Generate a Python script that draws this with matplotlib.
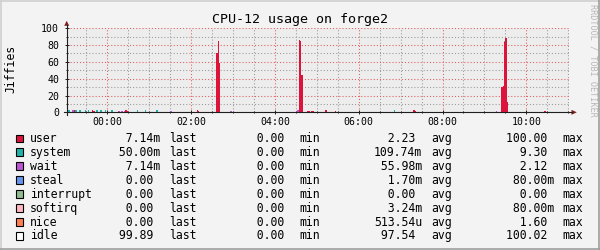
import matplotlib
matplotlib.use("Agg")
import matplotlib.pyplot as plt
from matplotlib.lines import Line2D
from matplotlib.patches import Polygon, Rectangle
from matplotlib.ticker import MultipleLocator

W, H = 600, 250
plt.rcParams["font.family"] = ["DejaVu Sans Mono"]

# consolidated rows are 2 minutes wide; only non-zero rows are listed
STEP_MIN = 2

user_times = ["23:12", "23:38", "23:40", "00:26", "00:28", "02:08", "02:10",
              "02:36", "02:38", "02:40", "04:34", "04:36", "04:38",
              "04:46", "04:48", "04:52", "04:54", "05:12", "05:26",
              "07:18", "07:20", "09:24", "09:26", "09:28", "09:30", "09:32", "10:26"]
user_values = [2.6, 2.2, 2.0, 2.4, 2.0, 2.2, 2.0,
               71, 85, 59, 86, 85, 44,
               2.0, 2.0, 2.0, 2.0, 2.2, 1.4,
               2.2, 2.0, 30, 31, 84, 88, 12, 1.6]

system_times = ["23:04", "23:14", "23:20", "23:28", "23:32", "23:44", "23:50",
                "23:56", "00:06", "00:42", "00:54", "01:10", "06:50", "09:28"]
system_values = [2.2, 2.2, 2.2, 2.2, 2.4, 2.2, 2.2,
                 2.2, 2.2, 2.2, 2.2, 2.2, 2.2, 1.2]

wait_times = ["23:10", "00:16", "00:20", "00:24", "01:30", "02:56", "04:32", "09:16"]
wait_values = [2.2, 2.0, 2.0, 2.0, 2.0, 2.0, 2.2, 2.0]

series_names = ["user", "system", "wait", "steal", "interrupt", "softirq", "nice", "idle"]
series_colors = ["#DC143C", "#20B2AA", "#BA55D3", "#6495ED",
                 "#8FBC8F", "#FFB6C1", "#FF7F50", "#FFFFFF"]
last_vals = [7.14e-3, 50.00e-3, 7.14e-3, 0.0, 0.0, 0.0, 0.0, 99.89]
min_vals = [0.0, 0.0, 0.0, 0.0, 0.0, 0.0, 0.0, 0.0]
avg_vals = [2.23, 109.74e-3, 55.98e-3, 1.70e-3, 0.0, 3.24e-3, 513.54e-6, 97.54]
max_vals = [100.00, 9.30, 2.12, 80.00e-3, 0.0, 80.00e-3, 1.60, 100.02]

x_ticks = [0, 2, 4, 6, 8, 10]
x_labels = ["00:00", "02:00", "04:00", "06:00", "08:00", "10:00"]


def to_hours(s):
    h, m = map(int, s.split(":"))
    v = h + m / 60
    return v - 24 if h >= 12 else v


def si(v):
    if v == 0 or abs(v) >= 1:
        return f"{v:6.2f} "
    if abs(v) >= 1e-3:
        return f"{v * 1e3:6.2f}m"
    return f"{v * 1e6:6.2f}u"


def fx(x):
    return x / W


def fy(y):
    return 1 - y / H


fig = plt.figure(figsize=(W / 100, H / 100), dpi=100)
fig.patch.set_facecolor("#F3F3F3")

px_per_h = 41.9
x0, x1, y0, y1 = 66.7, 568.5, 112.3, 28.3
ax = fig.add_axes([fx(x0), fy(y0), (x1 - x0) / W, (y0 - y1) / H])
ax.set_facecolor("#EDEDED")
ax.set_xlim(-(107.3 - x0) / px_per_h, (x1 - 107.3) / px_per_h)
ax.set_ylim(0, 100)

# stacked areas, drawn row by row
stack = {}
width = STEP_MIN / 60
for times, vals, col in [(user_times, user_values, series_colors[0]),
                         (system_times, system_values, series_colors[1]),
                         (wait_times, wait_values, series_colors[2])]:
    xs = [to_hours(t) for t in times]
    bottoms = [stack.get(t, 0) for t in times]
    ax.bar(xs, vals, width=width, bottom=bottoms, align="edge",
           color=col, linewidth=0, zorder=2)
    for t, v, b in zip(times, vals, bottoms):
        stack[t] = b + v

ax.set_xticks(x_ticks, x_labels)
ax.xaxis.set_minor_locator(MultipleLocator(0.5))
ax.yaxis.set_major_locator(MultipleLocator(20))
ax.yaxis.set_minor_locator(MultipleLocator(10))
ax.grid(which="major", color=(0.9, 0.35, 0.35, 0.5), linestyle=(0, (1, 2)), linewidth=0.75)
ax.grid(which="minor", color=(0.6, 0.6, 0.6, 0.4), linestyle=(0, (1, 2)), linewidth=0.75)
ax.set_axisbelow(True)
for sp in ax.spines.values():
    sp.set_visible(False)
ax.tick_params(which="both", direction="inout", color="#1F1F1F", width=0.7, labelsize=7.1)
ax.tick_params(which="major", length=2.4)
ax.tick_params(which="minor", length=1.4)
ax.tick_params(axis="y", pad=4.2)
ax.tick_params(axis="x", pad=2.5)

# axes with arrows
fig.add_artist(Line2D([fx(63.5), fx(572)], [fy(y0), fy(y0)], color="#1F1F1F", lw=0.8))
fig.add_artist(Line2D([fx(x0), fx(x0)], [fy(115), fy(25)], color="#1F1F1F", lw=0.8))
arrow_col = "#7F1F1F"
fig.add_artist(Polygon([(fx(64.2), fy(25.8)), (fx(69.2), fy(25.8)), (fx(x0), fy(20.8))],
                       closed=True, color=arrow_col, lw=0))
fig.add_artist(Polygon([(fx(571.5), fy(109.8)), (fx(571.5), fy(114.8)), (fx(576.8), fy(y0))],
                       closed=True, color=arrow_col, lw=0))

fig.text(0.5, fy(19.3), "CPU-12 usage on forge2", ha="center", va="center", fontsize=9.6)
fig.text(fx(10.7), fy(69), "Jiffies", rotation=90, ha="center", va="center", fontsize=8.3)
fig.text(fx(592.5), fy(60), "RRDTOOL / TOBI OETIKER", rotation=270, ha="center",
         va="center", fontsize=6.1, color="#B8B8B8")

# legend
for i, name in enumerate(series_names):
    y = 138.2 + 13.97 * i
    fig.add_artist(Rectangle((fx(15.5), fy(y + 3.8)), 7.5 / W, 7.5 / H,
                             facecolor=series_colors[i], edgecolor="black", lw=0.8))
    kw = dict(va="center", fontsize=8.3)
    fig.text(fx(30), fy(y), name, **kw)
    fig.text(fx(112.4), fy(y), si(last_vals[i]), **kw)
    fig.text(fx(169), fy(y), "last", **kw)
    fig.text(fx(242.6), fy(y), si(min_vals[i]), **kw)
    fig.text(fx(299.2), fy(y), "min", **kw)
    fig.text(fx(373.8), fy(y), si(avg_vals[i]), **kw)
    fig.text(fx(431.2), fy(y), "avg", **kw)
    fig.text(fx(506.5), fy(y), si(max_vals[i]), **kw)
    fig.text(fx(562.1), fy(y), "max", **kw)

# frame shading
fig.add_artist(Line2D([0, 1], [fy(0.6), fy(0.6)], color="#CFCFCF", lw=1.2))
fig.add_artist(Line2D([fx(0.6), fx(0.6)], [0, 1], color="#CFCFCF", lw=1.2))
fig.add_artist(Line2D([0, 1], [fy(249.4), fy(249.4)], color="#9E9E9E", lw=1.2))
fig.add_artist(Line2D([fx(599.4), fx(599.4)], [0, 1], color="#9E9E9E", lw=1.2))

fig.savefig("out.png", dpi=100, facecolor=fig.get_facecolor())
